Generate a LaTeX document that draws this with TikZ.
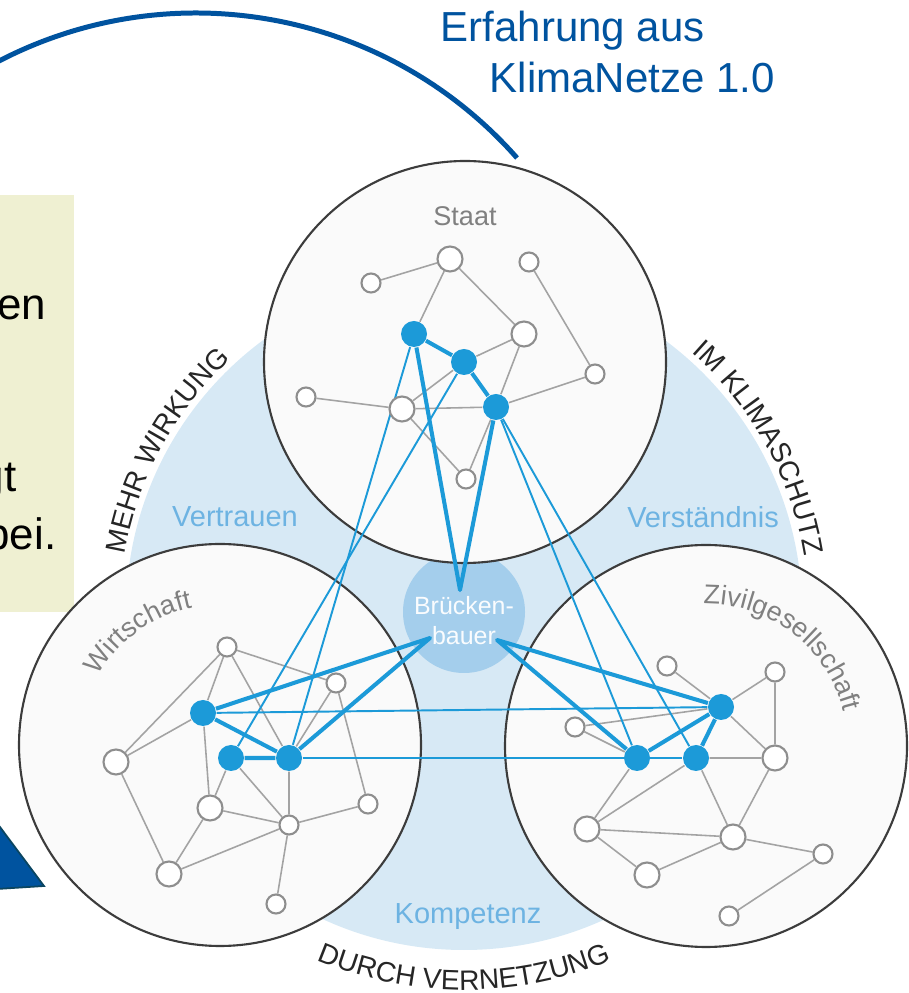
\documentclass[tikz,border=0pt]{standalone}
\usepackage{fontspec}
\setmainfont{Liberation Sans}
\usetikzlibrary{decorations.text}

\definecolor{deepblue}{HTML}{00539F}
\definecolor{tipedge}{HTML}{0B4560}
\definecolor{notebox}{HTML}{EFF0D2}
\definecolor{haze}{HTML}{D7E9F5}
\definecolor{bridgeblue}{HTML}{A4CEEC}
\definecolor{netblue}{HTML}{1C9AD8}
\definecolor{areablue}{HTML}{6DB3E2}
\definecolor{linkgray}{HTML}{A3A3A3}
\definecolor{nodegray}{HTML}{8E8E8E}
\definecolor{rimgray}{HTML}{3C3C3C}
\definecolor{groupgray}{HTML}{808080}
\definecolor{ringtext}{HTML}{262626}

\newcommand{\ringfont}{\fontsize{8}{9.6}\selectfont}
\newcommand{\groupfont}{\fontsize{7.7}{9.2}\selectfont}

\pgfdeclarelayer{background}
\pgfdeclarelayer{edges}
\pgfsetlayers{background,edges,main}

\tikzset{
  sector/.style={circle,draw=rimgray,fill=black!2,line width=0.6pt,minimum size=4.02cm,inner sep=0pt},
  bridge/.style={circle,fill=bridgeblue,minimum size=1.22cm,inner sep=0pt},
  opennode/.style={circle,draw=nodegray,fill=white,line width=0.6pt,minimum size=0.19cm,inner sep=0pt},
  bignode/.style={opennode,minimum size=0.25cm},
  bluenode/.style={circle,fill=netblue,minimum size=0.26cm,inner sep=0pt},
  link/.style={draw=linkgray,line width=0.45pt},
  tie/.style={draw=netblue,line width=1.15pt,line join=round},
  crosslink/.style={draw=netblue,line width=0.55pt},
  headline/.style={text=deepblue,font=\fontsize{11.95}{14}\selectfont,inner sep=0pt,anchor=base west},
  notetext/.style={text=black,font=\fontsize{12.5}{15}\selectfont,inner sep=0pt,anchor=base east},
  area/.style={text=areablue,font=\fontsize{8.25}{10}\selectfont,inner sep=0pt},
  grouplabel/.style={text=groupgray,font=\groupfont,inner sep=0pt},
  arctext/.style={decorate,decoration={text along path,text align=center,text={#1}}}
}

\begin{document}
\begin{tikzpicture}
\useasboundingbox (0,0) rectangle (9.08,9.93);

% Hintergrund
\begin{pgfonlayer}{background}
\draw[deepblue,line width=1.42pt] (1.96,5.52) ++(120:4.28) arc[start angle=120,end angle=41.4,radius=4.28];
\fill[notebox] (-0.1,3.81) rectangle (0.74,7.98);
\filldraw[fill=deepblue,draw=tipedge,line width=0.5pt] (-0.5,2.33) -- (0.44,1.07) -- (-0.5,1.01) -- cycle;
\fill[haze] (4.64,3.81) circle (3.38);
\node[bridge] (bb) at (4.64,3.81) {};
\node[sector] (staat) at (4.65,6.31) {};
\node[sector] (wirtschaft) at (2.20,2.48) {};
\node[sector] (zivil) at (7.06,2.47) {};
\end{pgfonlayer}

\node[headline] (erfahrung) at (4.40,9.51) {Erfahrung aus};
\node[headline] (klimanetze) at (4.89,9.00) {KlimaNetze 1.0};

\node[notetext] (noteen) at (0.47,6.73) {en};
\node[notetext] (notegt) at (0.17,5.01) {gt};
\node[notetext] (notebei) at (0.57,4.43) {bei.};

% Schrift am Rand
\path[arctext={|\ringfont\color{ringtext}|MEHR WIRKUNG}] (4.64,3.81) ++(176:3.44) arc[start angle=176,end angle=127,radius=3.44];
\path[arctext={|\ringfont\color{ringtext}|IM KLIMASCHUTZ}] (4.64,3.81) ++(53:3.45) arc[start angle=53,end angle=5,radius=3.45];
\path[arctext={|\ringfont\color{ringtext}|DURCH VERNETZUNG}] (4.64,3.81) ++(240:3.78) arc[start angle=240,end angle=300,radius=3.78];

\node[area] (vertrauen) at (2.35,4.76) {Vertrauen};
\node[area] (verstaendnis) at (7.03,4.76) {Verständnis};
\node[area] (kompetenz) at (4.68,0.76) {Kompetenz};

\node[grouplabel] (staatlabel) at (4.65,7.77) {Staat};
\path[arctext={|\groupfont\color{groupgray}|Wirtschaft}] (2.20,2.48) ++(160:1.40) arc[start angle=160,end angle=92,radius=1.40];
\path[arctext={|\groupfont\color{groupgray}|Zivilgesellschaft}] (7.06,2.47) ++(100:1.42) arc[start angle=100,end angle=5,radius=1.42];

% Staat
\node[bignode] (s1) at (4.50,7.34) {};
\node[opennode] (s2) at (3.71,7.10) {};
\node[opennode] (s3) at (5.29,7.31) {};
\node[bluenode] (s4) at (4.14,6.59) {};
\node[bignode] (s5) at (5.24,6.59) {};
\node[bluenode] (s6) at (4.64,6.31) {};
\node[opennode] (s7) at (5.95,6.19) {};
\node[opennode] (s8) at (3.06,5.96) {};
\node[bignode] (s9) at (4.02,5.84) {};
\node[bluenode] (s10) at (4.96,5.86) {};
\node[opennode] (s11) at (4.66,5.14) {};

% Wirtschaft
\node[opennode] (w1) at (2.27,3.46) {};
\node[opennode] (w2) at (3.36,3.10) {};
\node[bluenode] (w3) at (2.03,2.80) {};
\node[bignode] (w4) at (1.16,2.31) {};
\node[bluenode] (w5) at (2.31,2.35) {};
\node[bluenode] (w6) at (2.89,2.35) {};
\node[bignode] (w7) at (2.10,1.85) {};
\node[opennode] (w8) at (3.68,1.89) {};
\node[opennode] (w9) at (2.89,1.68) {};
\node[bignode] (w10) at (1.69,1.19) {};
\node[opennode] (w11) at (2.76,0.89) {};

% Zivilgesellschaft
\node[opennode] (z1) at (6.67,3.27) {};
\node[opennode] (z2) at (7.75,3.21) {};
\node[bluenode] (z3) at (7.21,2.86) {};
\node[opennode] (z4) at (5.75,2.66) {};
\node[bluenode] (z5) at (6.37,2.35) {};
\node[bluenode] (z6) at (6.96,2.35) {};
\node[bignode] (z7) at (7.75,2.35) {};
\node[bignode] (z8) at (5.87,1.64) {};
\node[bignode] (z9) at (7.33,1.56) {};
\node[opennode] (z10) at (8.23,1.39) {};
\node[bignode] (z11) at (6.47,1.18) {};
\node[opennode] (z12) at (7.29,0.77) {};

\coordinate (btop) at (4.60,4.03);
\coordinate (bleft) at (4.30,3.55);
\coordinate (bright) at (4.97,3.53);

\node[text=white!94!bridgeblue,font=\fontsize{7.1}{8.5}\selectfont,align=center,inner sep=0pt] (bbtext) at (4.64,3.72) {Brücken-\\bauer};

\begin{pgfonlayer}{edges}
\draw[link] (s2) -- (s1) -- (s4);
\draw[link] (s1) -- (s5) -- (s6);
\draw[link] (s5) -- (s10) -- (s11);
\draw[link] (s3) -- (s7) -- (s10);
\draw[link] (s8) -- (s9) -- (s10);
\draw[link] (s6) -- (s9) -- (s11);

\draw[link] (w2) -- (w1) -- (w4) -- (w3) -- (w1);
\draw[link] (w1) -- (w6) -- (w2) -- (w8) -- (w9);
\draw[link] (w3) -- (w7) -- (w5) -- (w9) -- (w6);
\draw[link] (w4) -- (w10) -- (w7) -- (w9) -- (w10);
\draw[link] (w9) -- (w11);

\draw[link] (z1) -- (z3) -- (z2) -- (z7) -- (z3) -- (z4) -- (z5);
\draw[link] (z6) -- (z7) -- (z9) -- (z6) -- (z8) -- (z5);
\draw[link] (z8) -- (z9) -- (z11) -- (z8);
\draw[link] (z9) -- (z10) -- (z12);

\draw[crosslink] (s4) -- (w6);
\draw[crosslink] (s6) -- (w5);
\draw[crosslink] (s10) -- (z5);
\draw[crosslink] (s10) -- (z6);
\draw[crosslink] (w3) -- (z3);
\draw[crosslink] (w6) -- (z6);

\draw[tie] (s4) -- (s6) -- (s10);
\draw[tie] (s4) -- (btop) -- (s10);
\draw[tie] (w5) -- (w6) -- (w3) -- (bleft) -- (w6);
\draw[tie] (z5) -- (z3) -- (z6);
\draw[tie] (z5) -- (bright) -- (z3);
\end{pgfonlayer}
\end{tikzpicture}
\end{document}
